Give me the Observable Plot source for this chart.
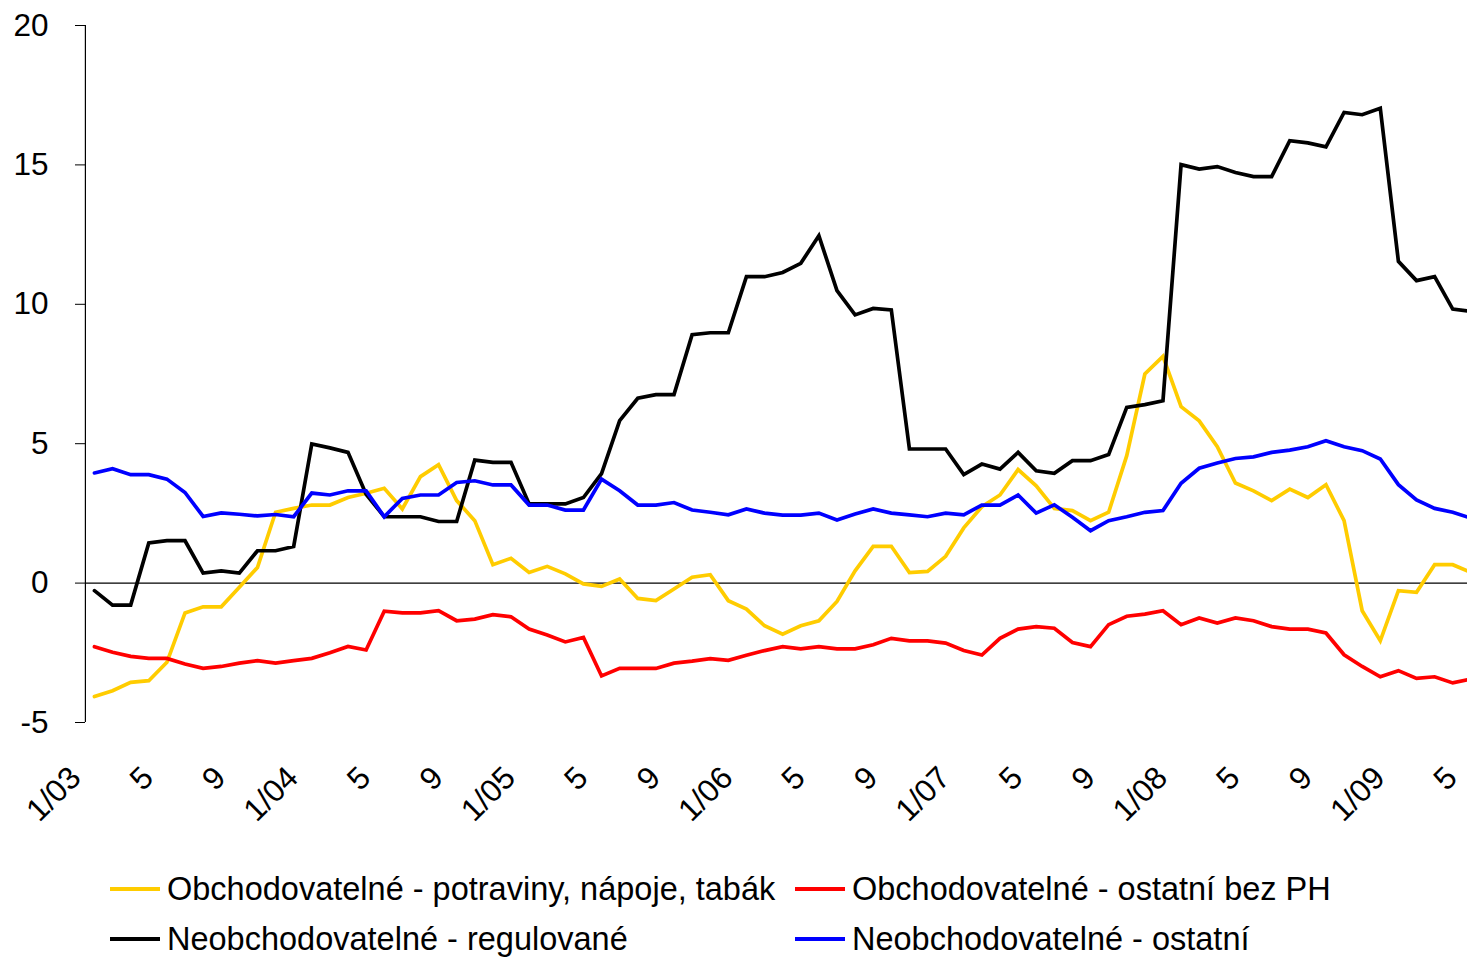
<!DOCTYPE html>
<html>
<head>
<meta charset="utf-8">
<script src="https://cdn.jsdelivr.net/npm/d3@7"></script>
<script src="https://cdn.jsdelivr.net/npm/@observablehq/plot@0.6"></script>
<style>
  html, body { margin: 0; padding: 0; background: #fff; }
  body { width: 1467px; height: 958px; overflow: hidden; font-family: "Liberation Sans", Arial, sans-serif; }
  #chart svg { display: block; }
  #legend { position: relative; width: 1467px; height: 108px; }
  .item { position: absolute; height: 50px; display: flex; align-items: center; font-size: 32.5px; color: #000; white-space: nowrap; }
  .sw { width: 50px; height: 4px; margin-right: 7px; }
</style>
</head>
<body>
<div id="chart"></div>
<div id="legend"></div>
<script>
// Months 1/2003 .. 5/2009 (77 monthly observations)
const xTickLabels = ["1/03","5","9","1/04","5","9","1/05","5","9","1/06","5","9","1/07","5","9","1/08","5","9","1/09","5"];
const yTicks = [-5, 0, 5, 10, 15, 20];

const seriesNames = [
  "Obchodovatelné - potraviny, nápoje, tabák",
  "Obchodovatelné - ostatní bez PH",
  "Neobchodovatelné - regulované",
  "Neobchodovatelné - ostatní"
];
const seriesColors = ["#FFCC00", "#FF0000", "#000000", "#0000FF"];

const potraviny = [-4.07,-3.86,-3.56,-3.50,-2.84,-1.07,-0.85,-0.85,-0.15,0.56,2.54,2.68,2.80,2.80,3.07,3.22,3.40,2.66,3.82,4.25,2.96,2.24,0.66,0.89,0.38,0.60,0.33,-0.03,-0.12,0.15,-0.55,-0.63,-0.21,0.21,0.30,-0.63,-0.93,-1.53,-1.83,-1.53,-1.35,-0.66,0.44,1.32,1.32,0.38,0.42,0.96,1.98,2.74,3.16,4.07,3.49,2.68,2.60,2.24,2.54,4.57,7.50,8.13,6.33,5.82,4.89,3.59,3.31,2.96,3.37,3.07,3.53,2.24,-0.99,-2.07,-0.27,-0.33,0.66,0.66,0.38];
const ostatniBezPH = [-2.28,-2.48,-2.63,-2.70,-2.70,-2.90,-3.06,-2.99,-2.87,-2.78,-2.87,-2.78,-2.70,-2.50,-2.27,-2.40,-1.01,-1.07,-1.07,-0.99,-1.35,-1.29,-1.13,-1.21,-1.65,-1.86,-2.11,-1.95,-3.33,-3.06,-3.06,-3.06,-2.87,-2.80,-2.71,-2.77,-2.59,-2.42,-2.28,-2.36,-2.28,-2.36,-2.36,-2.21,-1.98,-2.07,-2.07,-2.15,-2.42,-2.58,-1.98,-1.65,-1.56,-1.62,-2.13,-2.28,-1.49,-1.19,-1.11,-0.99,-1.49,-1.25,-1.43,-1.25,-1.35,-1.56,-1.65,-1.65,-1.79,-2.57,-2.99,-3.36,-3.14,-3.42,-3.36,-3.58,-3.44];
const regulovane = [-0.27,-0.79,-0.79,1.44,1.52,1.52,0.36,0.44,0.36,1.16,1.16,1.31,4.99,4.85,4.69,3.19,2.38,2.38,2.38,2.21,2.21,4.41,4.33,4.33,2.84,2.84,2.84,3.07,3.93,5.83,6.63,6.76,6.76,8.91,8.98,8.98,10.99,10.99,11.14,11.47,12.46,10.49,9.62,9.85,9.80,4.81,4.81,4.81,3.89,4.27,4.09,4.69,4.03,3.94,4.39,4.39,4.61,6.30,6.40,6.54,15.01,14.85,14.94,14.73,14.58,14.58,15.87,15.79,15.65,16.88,16.80,17.03,11.54,10.85,10.99,9.83,9.75];
const ostatni = [3.95,4.10,3.89,3.89,3.73,3.25,2.39,2.52,2.47,2.41,2.46,2.38,3.23,3.16,3.31,3.31,2.38,3.04,3.16,3.16,3.61,3.67,3.52,3.52,2.80,2.80,2.62,2.62,3.73,3.31,2.80,2.80,2.89,2.62,2.54,2.45,2.66,2.51,2.44,2.44,2.51,2.26,2.48,2.66,2.51,2.45,2.38,2.51,2.45,2.80,2.80,3.16,2.51,2.81,2.36,1.88,2.24,2.38,2.54,2.60,3.58,4.12,4.31,4.47,4.53,4.69,4.77,4.89,5.11,4.89,4.75,4.45,3.53,2.98,2.68,2.54,2.33];

const seriesValues = [potraviny, ostatniBezPH, regulovane, ostatni];
const rows = seriesValues.map((vals, s) => vals.map((v, i) => ({i, v, s: seriesNames[s]})));
const tickIdx = xTickLabels.map((_, k) => k * 4);

const W = 1467, H = 850;
const plot = Plot.plot({
  width: W,
  height: H,
  marginLeft: 85,
  marginRight: 0,
  marginTop: 25,
  marginBottom: 128,
  style: {fontFamily: "'Liberation Sans', Arial, sans-serif", color: "#000", background: "#fff", overflow: "hidden"},
  x: {type: "linear", domain: [-0.5, 76.5], range: [84.9, 1479.4], label: null},
  y: {domain: [-5, 20], label: null},
  marks: [
    Plot.ruleY([0], {stroke: "#000", strokeWidth: 1.2}),
    Plot.ruleX([-0.5], {y1: -5, y2: 20, stroke: "#000", strokeWidth: 1.2}),
    ...rows.map((r, s) => Plot.line(r, {x: "i", y: "v", stroke: seriesColors[s], strokeWidth: 3.7, strokeLinejoin: "miter", strokeMiterlimit: 3})),
    Plot.axisY(yTicks, {anchor: "left", label: null, tickSize: 10, tickPadding: 27, fontSize: 31.5, tickFormat: d => String(d), stroke: "#000"}),
    Plot.axisX(tickIdx, {anchor: "bottom", label: null, tickSize: 0, tickPadding: 0, tickRotate: -45, textAnchor: "end", lineAnchor: "middle", fontSize: 31.5, dx: -19, dy: 50, tickFormat: (d) => xTickLabels[d / 4]})
  ]
});
document.getElementById("chart").appendChild(plot);

const legend = document.getElementById("legend");
const pos = [[110, 39], [795, 39], [110, 89], [795, 89]];
seriesNames.forEach((name, s) => {
  const it = document.createElement("div");
  it.className = "item";
  it.style.left = pos[s][0] + "px";
  it.style.top = (pos[s][1] - 25) + "px";
  const sw = document.createElement("div");
  sw.className = "sw";
  sw.style.background = seriesColors[s];
  const tx = document.createElement("span");
  tx.textContent = name;
  it.appendChild(sw);
  it.appendChild(tx);
  legend.appendChild(it);
});
</script>
</body>
</html>
